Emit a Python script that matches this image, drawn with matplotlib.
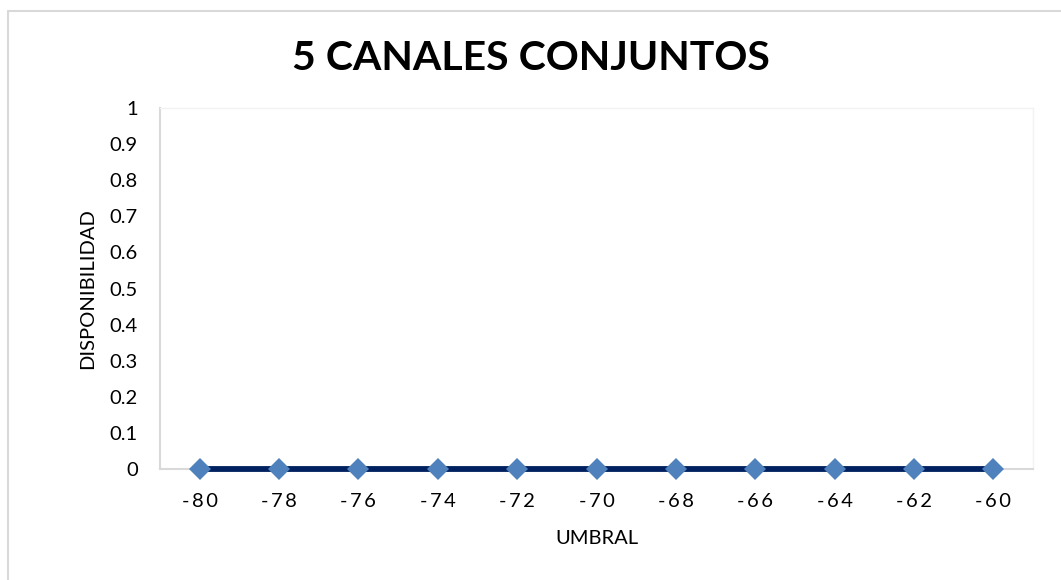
import matplotlib.pyplot as plt
from matplotlib.patches import Rectangle

umbral = [-80, -78, -76, -74, -72, -70, -68, -66, -64, -62, -60]
disponibilidad = [0, 0, 0, 0, 0, 0, 0, 0, 0, 0, 0]
y_ticks = [0, 0.1, 0.2, 0.3, 0.4, 0.5, 0.6, 0.7, 0.8, 0.9, 1]
y_labels = ['0', '0.1', '0.2', '0.3', '0.4', '0.5', '0.6', '0.7', '0.8', '0.9', '1']

plt.rcParams['font.family'] = ['Lato', 'DejaVu Sans']

fig = plt.figure(figsize=(10.61, 5.8), dpi=100)
W, H = 1061, 580

# marco del grafico (recortado a la derecha y abajo como en la captura)
fig.patches.append(Rectangle((8 / W, -0.1), 1.2, (580 - 11) / H + 0.1,
                             transform=fig.transFigure, fill=False,
                             edgecolor='#d9d9d9', linewidth=1.5))

ax = fig.add_axes([160 / W, (580 - 469) / H, (1033 - 160) / W, (469 - 108) / H])

ax.plot(umbral, disponibilidad, color='#002060', linewidth=4.2,
        marker='D', markersize=11.5, markerfacecolor='#4f81bd',
        markeredgewidth=0, zorder=3, clip_on=False)

ax.set_xlim(-81, -59)
ax.set_ylim(0, 1)
ax.set_xticks(umbral)
ax.set_xticklabels(['\u2009'.join(str(v)) for v in umbral])
ax.set_yticks(y_ticks)
ax.set_yticklabels(y_labels)
ax.tick_params(length=0, labelsize=14.5, colors='black')
ax.tick_params(axis='y', pad=16)
ax.tick_params(axis='x', pad=17)

for s in ['top', 'right']:
    ax.spines[s].set_color('#f2f2f2')
    ax.spines[s].set_linewidth(1)
for s in ['left', 'bottom']:
    ax.spines[s].set_color('#d9d9d9')
    ax.spines[s].set_linewidth(1.5)

ax.set_xlabel('UMBRAL', fontsize=14.5, labelpad=15)
ax.set_ylabel('DISPONIBILIDAD', fontsize=14.5, labelpad=10)

fig.text(0.5, (580 - 59) / H, '5 CANALES CONJUNTOS', ha='center', va='center',
         fontsize=29.5, fontweight='bold')

fig.savefig('out.png', dpi=100)
